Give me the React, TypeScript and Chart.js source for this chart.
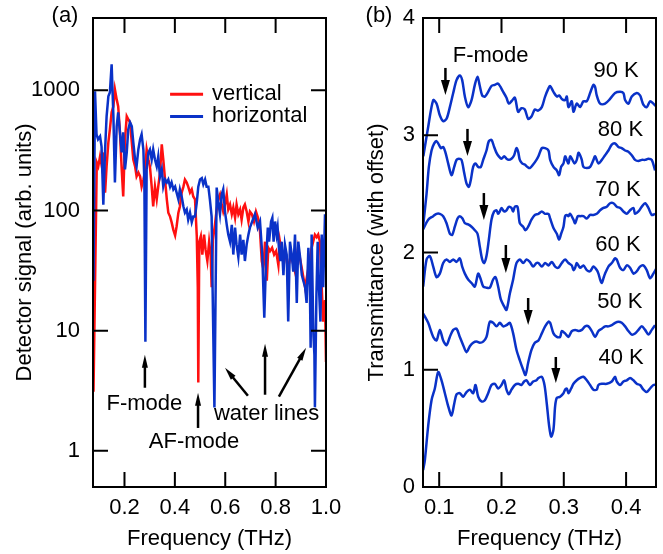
import React, { useEffect, useRef } from 'react';
import { Chart, registerables } from 'chart.js';
Chart.register(...registerables);

const FONT = '"Liberation Sans", Arial, Helvetica, sans-serif';
const BLUE = '#0a32c8';
const RED = '#ff1010';

// ---------- Panel (a) ----------
const freqTicksA = [0.2, 0.4, 0.6, 0.8, 1.0];
const signalTicksA = [1, 10, 100, 1000];

const horizontalA: [number, number][] = [
  [0.077,26],[0.083,981],[0.089,430],[0.095,391],[0.103,414],[0.109,341],[0.116,112],[0.123,322],[0.129,607],[0.136,891],[0.142,962],[0.149,1648],[0.156,607],[0.162,171],[0.169,501],[0.175,656],[0.182,447],[0.189,304],[0.195,447],[0.202,220],[0.209,304],[0.215,473],[0.222,541],[0.229,501],[0.235,369],[0.242,266],[0.248,233],[0.255,322],[0.262,391],[0.268,430],[0.275,322],[0.279,171],[0.283,8.1],[0.288,220],[0.295,304],[0.301,322],[0.308,266],[0.314,322],[0.321,266],[0.328,233],[0.334,282],[0.341,192],[0.348,220],[0.354,158],[0.361,181],[0.368,171],[0.374,181],[0.381,158],[0.387,171],[0.394,150],[0.401,158],[0.407,141],[0.414,124],[0.420,150],[0.427,131],[0.434,108],[0.440,96],[0.447,102],[0.453,84],[0.460,96],[0.467,80],[0.473,89],[0.480,89],[0.487,117],[0.493,158],[0.500,181],[0.507,186],[0.513,165],[0.520,181],[0.526,158],[0.533,158],[0.539,124],[0.546,89],[0.550,21],[0.557,2.3],[0.566,155],[0.572,119],[0.579,93],[0.586,136],[0.592,150],[0.599,98],[0.606,76],[0.612,63],[0.619,55],[0.626,76],[0.632,43],[0.639,72],[0.645,52],[0.652,41],[0.659,63],[0.665,43],[0.672,57],[0.678,38],[0.685,52],[0.692,63],[0.698,72],[0.707,81],[0.718,93],[0.729,72],[0.738,81],[0.747,43],[0.755,12.8],[0.762,38],[0.769,72],[0.774,55],[0.782,81],[0.787,87],[0.792,55],[0.798,81],[0.804,63],[0.808,72],[0.813,49],[0.819,38],[0.824,55],[0.831,29],[0.837,52],[0.844,43],[0.850,11.9],[0.857,55],[0.864,43],[0.870,31],[0.877,63],[0.884,17],[0.890,55],[0.897,41],[0.904,29],[0.910,26],[0.917,23],[0.923,17],[0.930,49],[0.936,23],[0.939,7.2],[0.943,63],[0.950,9.3],[0.954,6.3],[0.956,2.3],[0.962,20],[0.967,55],[0.972,23],[0.978,11.9],[0.983,63],[0.989,23],[0.996,93]
];

const verticalA: [number, number][] = [
  [0.077,3.1],[0.090,251],[0.096,233],[0.103,282],[0.110,233],[0.116,304],[0.123,141],[0.129,233],[0.136,369],[0.142,473],[0.149,656],[0.156,735],[0.162,1019],[0.169,841],[0.175,735],[0.182,447],[0.189,220],[0.195,131],[0.202,391],[0.209,607],[0.215,573],[0.222,541],[0.229,369],[0.235,266],[0.242,233],[0.248,192],[0.255,207],[0.262,192],[0.268,158],[0.275,181],[0.281,207],[0.288,322],[0.295,266],[0.301,233],[0.308,158],[0.314,108],[0.321,158],[0.328,124],[0.334,158],[0.341,207],[0.348,355],[0.354,266],[0.361,181],[0.368,124],[0.374,96],[0.381,89],[0.387,80],[0.394,69],[0.401,62],[0.407,74],[0.414,96],[0.420,108],[0.427,141],[0.434,158],[0.440,181],[0.447,171],[0.453,158],[0.460,141],[0.467,150],[0.473,131],[0.480,124],[0.487,61],[0.491,23],[0.493,3.7],[0.497,55],[0.503,61],[0.509,43],[0.516,63],[0.522,47],[0.529,38],[0.536,55],[0.542,43],[0.546,23],[0.551,57],[0.559,76],[0.566,102],[0.572,124],[0.579,136],[0.586,112],[0.592,98],[0.599,112],[0.606,136],[0.612,102],[0.619,112],[0.626,93],[0.632,106],[0.639,87],[0.645,112],[0.652,93],[0.659,102],[0.665,84],[0.672,106],[0.678,112],[0.685,98],[0.692,81],[0.698,98],[0.706,93],[0.714,81],[0.722,98],[0.730,87],[0.738,67],[0.745,38],[0.751,33],[0.758,55],[0.765,26],[0.771,49],[0.778,46],[0.786,49],[0.794,43],[0.802,46],[0.811,35],[0.817,55],[0.825,43],[0.837,46],[0.849,33],[0.861,43],[0.877,31],[0.889,49],[0.904,33],[0.917,23],[0.930,33],[0.943,49],[0.956,63],[0.963,60],[0.969,63],[0.976,55],[0.983,23],[0.989,11.9],[0.996,18],[1.0,5.5]
];

// annotation texts (a): [text, freq, signal]
const labelsA: [string, number, number][] = [
  ['F-mode', 0.279, 2.46],
  ['AF-mode', 0.476, 1.19],
  ['water lines', 0.764, 2.01],
];
// arrows (a): [fromFreq, fromSignal, toFreq, toSignal]
const arrowsA: [number, number, number, number][] = [
  [0.281, 3.35, 0.281, 6.3],
  [0.492, 1.55, 0.492, 3.04],
  [0.690, 2.87, 0.599, 4.92],
  [0.758, 2.93, 0.758, 7.8],
  [0.813, 2.82, 0.921, 7.2],
];

// ---------- Panel (b) ----------
const freqTicksB = [0.1, 0.2, 0.3, 0.4];
const transTicksB = [0, 1, 2, 3, 4];
const tempLabels = ['90 K', '80 K', '70 K', '60 K', '50 K', '40 K'];

const t90: [number, number][] = [[0.0745,2.82],[0.0823,3.07],[0.0904,3.30],[0.0957,3.27],[0.101,3.17],[0.1064,3.12],[0.1118,3.14],[0.1171,3.24],[0.1225,3.36],[0.1278,3.47],[0.1331,3.51],[0.1369,3.47],[0.1412,3.33],[0.1465,3.24],[0.1519,3.30],[0.1572,3.43],[0.1615,3.50],[0.1652,3.42],[0.169,3.34],[0.1733,3.33],[0.1786,3.37],[0.1839,3.42],[0.1893,3.43],[0.1946,3.44],[0.2027,3.37],[0.208,3.32],[0.2117,3.27],[0.216,3.29],[0.2214,3.32],[0.2267,3.20],[0.232,3.23],[0.2374,3.22],[0.2428,3.14],[0.2481,3.16],[0.2535,3.22],[0.2588,3.21],[0.2647,3.24],[0.27,3.33],[0.2754,3.40],[0.278,3.42],[0.2834,3.37],[0.2888,3.33],[0.2925,3.34],[0.2968,3.31],[0.3021,3.30],[0.3048,3.33],[0.3075,3.24],[0.3128,3.29],[0.3155,3.20],[0.3208,3.27],[0.3262,3.24],[0.3315,3.29],[0.3369,3.29],[0.3422,3.36],[0.3476,3.43],[0.3503,3.41],[0.3529,3.34],[0.3583,3.27],[0.3663,3.27],[0.3743,3.31],[0.3823,3.36],[0.3904,3.37],[0.3957,3.36],[0.3984,3.30],[0.4037,3.27],[0.4091,3.33],[0.4171,3.36],[0.4224,3.34],[0.4251,3.30],[0.4278,3.26],[0.4331,3.24],[0.4385,3.29],[0.4438,3.27],[0.4492,3.24]];
const t80: [number, number][] = [[0.0745,2.24],[0.0797,2.50],[0.0834,2.73],[0.0877,2.87],[0.092,2.93],[0.0957,2.95],[0.0995,2.92],[0.1027,2.89],[0.1064,2.90],[0.1102,2.85],[0.1144,2.76],[0.1198,2.66],[0.1241,2.73],[0.1278,2.79],[0.1315,2.80],[0.1358,2.79],[0.1401,2.68],[0.1438,2.59],[0.1476,2.56],[0.1508,2.62],[0.1545,2.73],[0.1583,2.76],[0.1626,2.73],[0.1668,2.73],[0.1706,2.79],[0.1759,2.87],[0.1797,2.95],[0.1839,2.96],[0.1882,2.90],[0.192,2.85],[0.1957,2.82],[0.2,2.80],[0.2043,2.82],[0.208,2.80],[0.2117,2.79],[0.216,2.80],[0.2203,2.83],[0.224,2.89],[0.2267,2.86],[0.2294,2.79],[0.2331,2.76],[0.2374,2.75],[0.2417,2.73],[0.2455,2.72],[0.2508,2.75],[0.2561,2.79],[0.2593,2.82],[0.2647,2.89],[0.27,2.89],[0.2754,2.87],[0.2781,2.79],[0.2834,2.73],[0.2888,2.70],[0.2925,2.66],[0.2957,2.73],[0.2995,2.76],[0.3021,2.82],[0.3048,2.79],[0.3075,2.76],[0.3101,2.82],[0.3139,2.79],[0.3171,2.76],[0.3208,2.79],[0.3235,2.85],[0.3262,2.83],[0.3289,2.79],[0.3315,2.73],[0.3369,2.72],[0.3422,2.73],[0.3476,2.79],[0.3503,2.82],[0.3556,2.76],[0.361,2.79],[0.3663,2.83],[0.3716,2.87],[0.377,2.92],[0.3823,2.93],[0.3877,2.90],[0.393,2.89],[0.3984,2.87],[0.4037,2.86],[0.4091,2.83],[0.4144,2.79],[0.4198,2.78],[0.4251,2.79],[0.4305,2.79],[0.4358,2.80],[0.4412,2.79],[0.4465,2.70]];
const t70: [number, number][] = [[0.0745,2.20],[0.0823,2.28],[0.0904,2.31],[0.0957,2.33],[0.101,2.33],[0.1064,2.31],[0.1118,2.25],[0.1171,2.16],[0.1208,2.15],[0.1251,2.22],[0.1294,2.29],[0.1331,2.31],[0.1374,2.29],[0.1412,2.25],[0.1465,2.24],[0.1519,2.22],[0.1572,2.19],[0.1615,2.16],[0.1652,2.05],[0.169,1.94],[0.1722,1.91],[0.1759,1.97],[0.1797,2.11],[0.1839,2.28],[0.1882,2.35],[0.192,2.36],[0.1946,2.33],[0.1973,2.35],[0.2,2.38],[0.2043,2.35],[0.208,2.36],[0.2117,2.39],[0.216,2.38],[0.2187,2.35],[0.2214,2.39],[0.2257,2.39],[0.2294,2.25],[0.2348,2.22],[0.2385,2.19],[0.2428,2.22],[0.2481,2.28],[0.2535,2.32],[0.2593,2.33],[0.2647,2.35],[0.27,2.33],[0.2754,2.33],[0.2781,2.29],[0.2834,2.21],[0.2888,2.16],[0.2925,2.11],[0.2957,2.16],[0.2995,2.22],[0.3021,2.31],[0.3048,2.32],[0.3075,2.31],[0.3101,2.33],[0.3155,2.28],[0.3182,2.25],[0.3224,2.31],[0.3262,2.31],[0.3315,2.31],[0.3369,2.29],[0.3422,2.32],[0.3476,2.32],[0.3529,2.33],[0.3583,2.36],[0.3636,2.38],[0.369,2.39],[0.3743,2.42],[0.3797,2.42],[0.385,2.39],[0.3904,2.38],[0.3957,2.35],[0.4011,2.33],[0.4064,2.36],[0.4118,2.38],[0.4144,2.33],[0.4198,2.35],[0.4251,2.39],[0.4305,2.42],[0.4358,2.38],[0.4412,2.32],[0.4465,2.33]];
const t60: [number, number][] = [[0.0743,1.71],[0.0797,1.94],[0.085,1.97],[0.0904,1.88],[0.0957,1.79],[0.101,1.82],[0.1064,1.91],[0.1118,1.94],[0.1171,1.92],[0.1225,1.94],[0.1278,1.92],[0.1331,1.95],[0.1369,1.88],[0.1412,1.82],[0.1465,1.77],[0.1519,1.74],[0.1572,1.71],[0.1626,1.82],[0.1668,1.77],[0.1706,1.71],[0.1759,1.70],[0.1813,1.70],[0.1866,1.77],[0.1904,1.79],[0.1946,1.71],[0.1989,1.60],[0.2043,1.54],[0.208,1.51],[0.2134,1.65],[0.2187,1.77],[0.224,1.91],[0.2294,1.94],[0.2348,1.91],[0.2401,1.94],[0.2455,1.92],[0.2508,1.88],[0.2561,1.91],[0.2593,1.91],[0.2647,1.88],[0.27,1.91],[0.2754,1.89],[0.2807,1.92],[0.2861,1.88],[0.2914,1.87],[0.2968,1.91],[0.3021,1.94],[0.3075,1.91],[0.3128,1.89],[0.3155,1.85],[0.3182,1.87],[0.3208,1.91],[0.3262,1.87],[0.3315,1.89],[0.3369,1.85],[0.3422,1.84],[0.3476,1.88],[0.3529,1.85],[0.3556,1.82],[0.3583,1.77],[0.361,1.74],[0.3636,1.78],[0.3663,1.82],[0.3716,1.88],[0.377,1.91],[0.3823,1.95],[0.385,1.94],[0.3904,1.87],[0.3957,1.85],[0.4011,1.89],[0.4064,1.87],[0.4118,1.82],[0.4171,1.84],[0.4224,1.88],[0.4278,1.89],[0.4331,1.85],[0.4385,1.78],[0.4438,1.82],[0.4492,1.87]];
const t50: [number, number][] = [[0.0743,1.48],[0.0823,1.40],[0.0904,1.28],[0.0957,1.25],[0.101,1.34],[0.1064,1.25],[0.1118,1.21],[0.1171,1.28],[0.1225,1.34],[0.1278,1.35],[0.1331,1.28],[0.1385,1.21],[0.1438,1.15],[0.1492,1.20],[0.1545,1.23],[0.1599,1.24],[0.1652,1.23],[0.1706,1.24],[0.1759,1.28],[0.1813,1.41],[0.1866,1.40],[0.192,1.37],[0.1973,1.40],[0.2027,1.37],[0.208,1.38],[0.2134,1.40],[0.2187,1.31],[0.224,1.17],[0.2294,1.08],[0.2348,1.00],[0.2385,0.955],[0.2428,1.06],[0.2481,1.17],[0.2535,1.23],[0.2593,1.25],[0.2647,1.31],[0.27,1.37],[0.2754,1.41],[0.2781,1.40],[0.2834,1.31],[0.2888,1.28],[0.2941,1.28],[0.2968,1.33],[0.3021,1.31],[0.3075,1.28],[0.3128,1.33],[0.3182,1.34],[0.3235,1.33],[0.3289,1.34],[0.3342,1.37],[0.3396,1.37],[0.3449,1.33],[0.3503,1.28],[0.3556,1.33],[0.361,1.35],[0.3663,1.37],[0.3716,1.37],[0.377,1.38],[0.3823,1.40],[0.3877,1.41],[0.393,1.40],[0.3984,1.37],[0.4037,1.33],[0.4091,1.30],[0.4144,1.31],[0.4198,1.34],[0.4251,1.37],[0.4305,1.34],[0.4358,1.30],[0.4412,1.34],[0.4465,1.38]];
const t40: [number, number][] = [[0.0743,0.145],[0.077,0.23],[0.0823,0.52],[0.0877,0.74],[0.093,0.84],[0.0984,0.98],[0.1037,0.91],[0.1091,0.80],[0.1144,0.69],[0.1198,0.61],[0.1241,0.71],[0.1278,0.79],[0.1331,0.80],[0.1385,0.77],[0.1438,0.81],[0.1492,0.83],[0.1545,0.80],[0.1583,0.87],[0.1626,0.77],[0.1679,0.73],[0.1733,0.74],[0.1786,0.80],[0.1839,0.87],[0.1893,0.88],[0.1946,0.84],[0.2,0.87],[0.2043,0.91],[0.208,0.83],[0.2117,0.79],[0.216,0.83],[0.2214,0.87],[0.2267,0.88],[0.232,0.87],[0.2363,0.90],[0.2401,0.91],[0.2455,0.87],[0.2508,0.90],[0.2561,0.91],[0.2593,0.93],[0.2647,0.94],[0.269,0.87],[0.2727,0.71],[0.2765,0.52],[0.2797,0.43],[0.2834,0.49],[0.2861,0.69],[0.2888,0.76],[0.2941,0.77],[0.2995,0.80],[0.3021,0.83],[0.3048,0.84],[0.3075,0.80],[0.3118,0.84],[0.3155,0.88],[0.3208,0.91],[0.3262,0.93],[0.3315,0.94],[0.3369,0.91],[0.3422,0.87],[0.3476,0.83],[0.3529,0.83],[0.3556,0.87],[0.361,0.88],[0.369,0.88],[0.377,0.90],[0.3823,0.94],[0.385,0.90],[0.3904,0.87],[0.3957,0.90],[0.4011,0.91],[0.4064,0.93],[0.4118,0.91],[0.4171,0.88],[0.4224,0.87],[0.4278,0.83],[0.4331,0.81],[0.4385,0.84],[0.4438,0.87],[0.4492,0.87]];

// temperature label positions (b): [freq, transmittance]
const tempLabelPos: [number, number][] = [[0.384,3.548],[0.391,3.045],[0.387,2.533],[0.387,2.064],[0.390,1.578],[0.392,1.100]];
// F-mode arrows (b): [freq, from, to(tip)]
const arrowsB: [number, number, number][] = [[0.110,3.574,3.343],[0.1454,3.054,2.823],[0.1717,2.507,2.277],[0.207,2.064,1.825],[0.2428,1.612,1.382],[0.2872,1.109,0.887]];

function drawArrow(ctx: CanvasRenderingContext2D, x1: number, y1: number, x2: number, y2: number, headLen: number, headW: number, lw: number) {
  const ang = Math.atan2(y2 - y1, x2 - x1);
  const bx = x2 - headLen * Math.cos(ang);
  const by = y2 - headLen * Math.sin(ang);
  ctx.lineWidth = lw;
  ctx.beginPath();
  ctx.moveTo(x1, y1);
  ctx.lineTo(bx + Math.cos(ang) * 2, by + Math.sin(ang) * 2);
  ctx.stroke();
  const px = -Math.sin(ang) * headW / 2;
  const py = Math.cos(ang) * headW / 2;
  ctx.beginPath();
  ctx.moveTo(x2, y2);
  ctx.lineTo(bx + px, by + py);
  ctx.lineTo(bx - px, by - py);
  ctx.closePath();
  ctx.fill();
}

function framePlugin(xTicks: number[], yTicksLeft: number[], yTicksRight: number[]) {
  return {
    id: 'frame',
    afterDraw(chart: any) {
      const { ctx, chartArea } = chart;
      const { left, right, top, bottom } = chartArea;
      const x = chart.scales.x, y = chart.scales.y;
      const L = 15;
      ctx.save();
      ctx.strokeStyle = '#000';
      ctx.lineWidth = 2;
      ctx.strokeRect(left, top, right - left, bottom - top);
      ctx.beginPath();
      for (const v of xTicks) {
        const px = x.getPixelForValue(v);
        if (px <= left + 1 || px >= right - 1) continue;
        ctx.moveTo(px, top); ctx.lineTo(px, top + L);
        ctx.moveTo(px, bottom); ctx.lineTo(px, bottom - L);
      }
      for (const v of yTicksLeft) {
        const py = y.getPixelForValue(v);
        if (py <= top + 1 || py >= bottom - 1) continue;
        ctx.moveTo(left, py); ctx.lineTo(left + L, py);
      }
      for (const v of yTicksRight) {
        const py = y.getPixelForValue(v);
        if (py <= top + 1 || py >= bottom - 1) continue;
        ctx.moveTo(right, py); ctx.lineTo(right - L, py);
      }
      ctx.stroke();
      ctx.restore();
    },
  };
}

const annotA = {
  id: 'annotA',
  afterDraw(chart: any) {
    const { ctx, chartArea } = chart;
    const x = chart.scales.x, y = chart.scales.y;
    ctx.save();
    ctx.font = `22px ${FONT}`;
    ctx.fillStyle = '#000';
    ctx.strokeStyle = '#000';
    ctx.textBaseline = 'middle';
    // panel letter
    ctx.textAlign = 'center';
    ctx.fillText('(a)', chartArea.left - 28, chartArea.top - 2);
    // legend
    const lx1 = x.getPixelForValue(0.381), lx2 = x.getPixelForValue(0.512), tx = x.getPixelForValue(0.547);
    const yv = y.getPixelForValue(926), yh = y.getPixelForValue(607);
    ctx.lineWidth = 3;
    ctx.strokeStyle = RED;
    ctx.beginPath(); ctx.moveTo(lx1, yv); ctx.lineTo(lx2, yv); ctx.stroke();
    ctx.strokeStyle = BLUE;
    ctx.beginPath(); ctx.moveTo(lx1, yh); ctx.lineTo(lx2, yh); ctx.stroke();
    ctx.textAlign = 'left';
    ctx.fillText('vertical', tx, yv);
    ctx.fillText('horizontal', tx, yh);
    // labels
    ctx.textAlign = 'center';
    for (const [t, f, v] of labelsA) ctx.fillText(t, x.getPixelForValue(f), y.getPixelForValue(v));
    ctx.strokeStyle = '#000';
    for (const [f1, v1, f2, v2] of arrowsA) {
      drawArrow(ctx, x.getPixelForValue(f1), y.getPixelForValue(v1), x.getPixelForValue(f2), y.getPixelForValue(v2), 13, 6, 2.5);
    }
    ctx.restore();
  },
};

const annotB = {
  id: 'annotB',
  afterDraw(chart: any) {
    const { ctx, chartArea } = chart;
    const x = chart.scales.x, y = chart.scales.y;
    ctx.save();
    ctx.font = `22px ${FONT}`;
    ctx.fillStyle = '#000';
    ctx.strokeStyle = '#000';
    ctx.textBaseline = 'middle';
    ctx.textAlign = 'center';
    ctx.fillText('(b)', chartArea.left - 44, chartArea.top - 2);
    ctx.fillText('F-mode', x.getPixelForValue(0.1826), y.getPixelForValue(3.68));
    tempLabels.forEach((t, i) => {
      const [f, v] = tempLabelPos[i];
      ctx.fillText(t, x.getPixelForValue(f), y.getPixelForValue(v));
    });
    for (const [f, v1, v2] of arrowsB) {
      const px = x.getPixelForValue(f);
      drawArrow(ctx, px, y.getPixelForValue(v1), px, y.getPixelForValue(v2), 15, 9, 2.5);
    }
    ctx.restore();
  },
};

const tickFont = { family: FONT, size: 22 };
const titleFont = { family: FONT, size: 22 };
const W = 663, H = 554;

function makeA(canvas: HTMLCanvasElement) {
  return new Chart(canvas, {
    type: 'line',
    data: {
      datasets: [
        { label: 'horizontal', data: horizontalA.map(([x, y]) => ({ x, y })), borderColor: BLUE, borderWidth: 2.5, pointRadius: 0, tension: 0, fill: false },
        { label: 'vertical', data: verticalA.map(([x, y]) => ({ x, y })), borderColor: RED, borderWidth: 2.5, pointRadius: 0, tension: 0, fill: false },
      ],
    },
    options: {
      responsive: false,
      animation: false,
      events: [],
      layout: { padding: { left: 0, top: 18, right: W - 326, bottom: 0 } },
      plugins: { legend: { display: false }, tooltip: { enabled: false } },
      scales: {
        x: {
          type: 'linear', min: 0.075, max: 1.0,
          afterBuildTicks: (s: any) => { s.ticks = freqTicksA.map((v) => ({ value: v })); },
          afterFit: (s: any) => { s.height = 67; s.paddingLeft = 0; s.paddingRight = 0; },
          ticks: { callback: (v: any) => Number(v).toFixed(1), font: tickFont, color: '#000', padding: 8, maxRotation: 0, autoSkip: false },
          grid: { display: false, drawTicks: false },
          border: { display: false },
          title: { display: true, text: 'Frequency (THz)', font: titleFont, color: '#000', padding: { top: 0, bottom: 2 } },
        },
        y: {
          type: 'logarithmic', min: 0.5, max: 4000,
          afterBuildTicks: (s: any) => { s.ticks = signalTicksA.map((v) => ({ value: v })); },
          afterFit: (s: any) => { s.width = 93; s.paddingTop = 0; s.paddingBottom = 0; },
          ticks: { callback: (v: any) => String(v), font: tickFont, color: '#000', padding: 13, autoSkip: false },
          grid: { display: false, drawTicks: false },
          border: { display: false },
          title: { display: true, text: 'Detector signal (arb. units)', font: titleFont, color: '#000', padding: { top: 12, bottom: 0 } },
        },
      },
    } as any,
    plugins: [framePlugin(freqTicksA, signalTicksA, signalTicksA), annotA],
  });
}

function makeB(canvas: HTMLCanvasElement) {
  const series = [t90, t80, t70, t60, t50, t40];
  return new Chart(canvas, {
    type: 'line',
    data: {
      datasets: series.map((s, i) => ({
        label: tempLabels[i],
        data: s.map(([x, y]) => ({ x, y })),
        borderColor: BLUE, borderWidth: 2.5, pointRadius: 0, tension: 0.3, fill: false,
      })),
    },
    options: {
      responsive: false,
      animation: false,
      events: [],
      layout: { padding: { left: 340, top: 18, right: W - 656, bottom: 0 } },
      plugins: { legend: { display: false }, tooltip: { enabled: false } },
      scales: {
        x: {
          type: 'linear', min: 0.074, max: 0.448,
          afterBuildTicks: (s: any) => { s.ticks = freqTicksB.map((v) => ({ value: v })); },
          afterFit: (s: any) => { s.height = 67; s.paddingLeft = 0; s.paddingRight = 0; },
          ticks: { callback: (v: any) => Number(v).toFixed(1), font: tickFont, color: '#000', padding: 8, maxRotation: 0, autoSkip: false },
          grid: { display: false, drawTicks: false },
          border: { display: false },
          title: { display: true, text: 'Frequency (THz)', font: titleFont, color: '#000', padding: { top: 0, bottom: 2 } },
        },
        y: {
          type: 'linear', min: 0, max: 4,
          afterBuildTicks: (s: any) => { s.ticks = transTicksB.map((v) => ({ value: v })); },
          afterFit: (s: any) => { s.width = 83; s.paddingTop = 0; s.paddingBottom = 0; },
          ticks: { callback: (v: any) => String(v), font: tickFont, color: '#000', padding: 8, autoSkip: false },
          grid: { display: false, drawTicks: false },
          border: { display: false },
          title: { display: true, text: 'Transmittance (with offset)', font: titleFont, color: '#000', padding: { top: 24, bottom: 0 } },
        },
      },
    } as any,
    plugins: [framePlugin(freqTicksB, [1, 2, 3], []), annotB],
  });
}

export default function App() {
  const refA = useRef<HTMLCanvasElement>(null);
  const refB = useRef<HTMLCanvasElement>(null);
  useEffect(() => {
    const a = makeA(refA.current!);
    const b = makeB(refB.current!);
    return () => { a.destroy(); b.destroy(); };
  }, []);
  const cs: React.CSSProperties = { position: 'absolute', left: 0, top: 0, width: W, height: H };
  return (
    <div style={{ position: 'absolute', left: 0, top: 0, width: W, height: H, background: '#fff', overflow: 'hidden' }}>
      <canvas ref={refA} width={W} height={H} style={cs} />
      <canvas ref={refB} width={W} height={H} style={cs} />
    </div>
  );
}
